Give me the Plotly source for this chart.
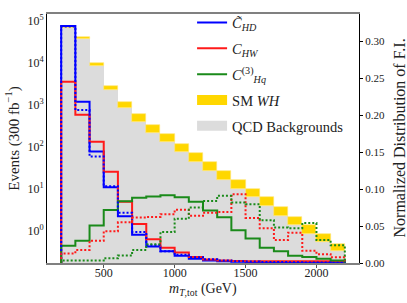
import numpy as np
import plotly.graph_objects as go

# ---- data ----
bin_edges = [200, 300, 400, 500, 600, 700, 800, 900, 1000, 1100, 1200,
             1300, 1400, 1500, 1600, 1700, 1800, 1900, 2000, 2100, 2200]
qcd_bkg = [7.0e4, 3.7e4, 8.7e3, 2230, 840, 404, 217, 130, 75, 44, 27, 16.4,
           10, 6.4, 3.9, 2.35, 1.4, 0.84, 0.56, 0.33]
sm_wh = [6.0e3, 5.0e3, 1.3e3, 640, 330, 196, 127, 71, 45, 28, 17, 10.6,
         6.4, 3.6, 2.5, 1.35, 0.8, 0.52, 0.28, 0.16]
chd_events = [7.7e4, 1200, 79, 11, 2.26, 0.82, 0.43, 0.33, 0.26, 0.22, 0.20,
              0.19, 0.185, 0.18, 0.18, 0.18, 0.18, 0.18, 0.18, 0.18]
chw_events = [3600, 586, 134, 26, 4.97, 1.48, 0.64, 0.40, 0.31, 0.24, 0.21,
              0.20, 0.195, 0.19, 0.19, 0.19, 0.19, 0.19, 0.19, 0.19]
chq_events = [0.45, 0.59, 1.36, 3.19, 5.15, 6.25, 6.7, 7.1, 6.4, 4.97, 3.1,
              2.15, 1.04, 0.67, 0.40, 0.33, 0.26, 0.24, 0.22, 0.20]
chd_fi = [0.32, 0.207, 0.144, 0.104, 0.068, 0.042, 0.0245, 0.016, 0.011,
          0.0078, 0.005, 0.0034, 0.0025, 0.002, 0.0015, 0.0012, 0.001,
          0.0008, 0.0006, 0.0005]
chw_fi = [0.013, 0.0175, 0.030, 0.043, 0.055, 0.0615, 0.0624, 0.066, 0.072,
          0.064, 0.068, 0.069, 0.093, 0.061, 0.047, 0.031, 0.041, 0.0166,
          0.012, 0.0078]
chq_fi = [0.0034, 0.0034, 0.0034, 0.0065, 0.010, 0.0175, 0.0255, 0.042,
          0.060, 0.075, 0.084, 0.091, 0.082, 0.0795, 0.058, 0.048, 0.047,
          0.054, 0.031, 0.024]
x_ticks = [500, 1000, 1500, 2000]
y_ticks = [1, 10, 100, 1000, 10000, 100000]
y2_ticks = [0.0, 0.05, 0.10, 0.15, 0.20, 0.25, 0.30]

names = ["<i>C̃</i><sub><i>HD</i></sub>", "<i>C</i><sub><i>HW</i></sub>",
         "<i>C</i><sup>(3)</sup><sub><i>Hq</i></sub>"]
colors = ["#0000ff", "#ff1a1a", "#1a8a1a"]

edges = np.array(bin_edges, dtype=float)
centers = 0.5 * (edges[:-1] + edges[1:])
widths = np.diff(edges)

FONT = "Liberation Serif"


def step(vals, floor):
    xs = [edges[0]] + list(edges[:-1]) + [edges[-1]]
    ys = [floor] + list(vals) + [floor]
    return xs, ys


fig = go.Figure()
fig.add_trace(go.Bar(x=centers, y=qcd_bkg, width=widths,
                     marker=dict(color="#dcdcdc", line=dict(width=0)),
                     showlegend=False, yaxis="y"))
fig.add_trace(go.Bar(x=centers, y=sm_wh, base=qcd_bkg, width=widths,
                     marker=dict(color="#ffd700", line=dict(width=0.6, color="#ffe680")),
                     showlegend=False, yaxis="y"))

for i, (vals, nm, c) in enumerate(zip([chd_events, chw_events, chq_events], names, colors)):
    xs, ys = step(vals, 1e-3)
    fig.add_trace(go.Scatter(x=xs, y=ys, mode="lines", line_shape="hv",
                             line=dict(color=c, width=2), name=nm, yaxis="y",
                             legendgroup="g%d" % i))

for vals, c in zip([chd_fi, chw_fi, chq_fi], colors):
    xs, ys = step(vals, 0.0)
    fig.add_trace(go.Scatter(x=xs, y=ys, mode="lines", line_shape="hv",
                             line=dict(color=c, width=2, dash="2px,2px"),
                             showlegend=False, yaxis="y2"))

# legend keys for filled histograms
fig.add_trace(go.Scatter(x=[None], y=[None], mode="lines",
                         line=dict(color="#ffd700", width=13),
                         name="SM <i>WH</i>", legendgroup="g3"))
fig.add_trace(go.Scatter(x=[None], y=[None], mode="lines",
                         line=dict(color="#dcdcdc", width=13),
                         name="QCD Backgrounds", legendgroup="g4"))

fig.update_layout(
    width=407, height=303,
    margin=dict(l=47, r=48, t=7, b=40),
    paper_bgcolor="white", plot_bgcolor="white",
    barmode="overlay", bargap=0,
    font=dict(family=FONT, size=12, color="#222"),
    showlegend=True,
    legend=dict(x=0.465, y=1.03, xanchor="left", yanchor="top",
                bgcolor="rgba(255,255,255,0)", borderwidth=0,
                font=dict(family=FONT, size=14.5, color="#222"),
                itemwidth=30, tracegroupgap=4),
    xaxis=dict(range=[100, 2300], tickvals=x_ticks,
               ticktext=[str(v) for v in x_ticks],
               ticks="outside", ticklen=3, tickcolor="#555",
               ticklabelstandoff=-5,
               showline=True, linecolor="#808080", linewidth=2, mirror=True,
               showgrid=False, zeroline=False,
               tickfont=dict(size=12)),
    yaxis=dict(type="log", range=[-0.76, 5.17], tickvals=y_ticks,
               ticktext=["10<sup>%d</sup>" % k for k in range(6)],
               ticks="", showline=True, linecolor="black", linewidth=1,
               showgrid=False, zeroline=False, tickfont=dict(size=12),
               title=dict(text="Events (300 fb<sup>−1</sup>)",
                          font=dict(size=15), standoff=4)),
    yaxis2=dict(overlaying="y", side="right", range=[0, 0.337],
                tickvals=y2_ticks, ticktext=["%.2f" % v for v in y2_ticks],
                ticks="outside", ticklen=3, tickcolor="black",
                showline=True, linecolor="black", linewidth=1,
                showgrid=False, zeroline=False, tickfont=dict(size=11)),
    annotations=[
        dict(text="<i>m</i><sub><i>T</i>,tot</sub> (GeV)", xref="paper",
             yref="paper", x=0.5, y=0, xanchor="center", yanchor="middle",
             yshift=-26, showarrow=False, font=dict(size=14)),
        dict(text="Normalized Distribution of F.I.", xref="paper",
             yref="paper", x=1, y=0.5, xanchor="center", yanchor="middle",
             xshift=40, textangle=-90, showarrow=False, font=dict(size=16)),
    ],
)

fig.write_html("out.html", config={"displayModeBar": False},
               post_script="document.body.style.margin='0';document.body.style.overflow='hidden';")
